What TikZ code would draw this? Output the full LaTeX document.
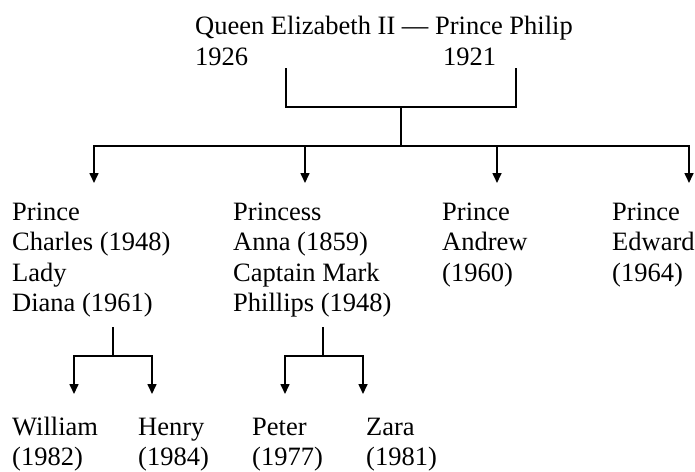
\documentclass[tikz,border=0pt]{standalone}
\usepackage{fontspec}
\setmainfont{Liberation Serif}
\usetikzlibrary{arrows.meta}
\begin{document}
\begin{tikzpicture}[x=1pt,y=-1pt,
  person/.style={anchor=base west,inner sep=0pt,align=left,font=\fontsize{26.5}{30.5}\selectfont},
  link/.style={line width=1.6pt,line cap=rect},
  tolink/.style={line width=1.6pt,-{Triangle[length=10pt,width=9pt]}}]
\useasboundingbox (0,0) rectangle (695,471);
% nodes (anchor at baseline of last line)
\node[person] (queen) at (195,65) {Queen Elizabeth II --- Prince Philip\\\makebox[248pt][l]{1926}1921};
\node[person] (charles) at (12,311.5) {Prince\\Charles (1948)\\Lady\\Diana (1961)};
\node[person] (anne) at (233,311.5) {Princess\\Anna (1859)\\Captain Mark\\Phillips (1948)};
\node[person] (andrew) at (442,281) {Prince\\Andrew\\(1960)};
\node[person] (edward) at (612,281) {Prince\\Edward\\(1964)};
\node[person] (william) at (12,465.5) {William\\(1982)};
\node[person] (henry) at (138,465.5) {Henry\\(1984)};
\node[person] (peter) at (252,465.5) {Peter\\(1977)};
\node[person] (zara) at (366,465.5) {Zara\\(1981)};
% junction coordinates
\coordinate (qL) at (286,69);
\coordinate (qR) at (516,69);
\coordinate (qM) at (401,107);
\coordinate (bar) at (401,146);
\coordinate (cC) at (94,183);
\coordinate (cA) at (305,183);
\coordinate (cN) at (497,183);
\coordinate (cE) at (689,183);
\coordinate (chTop) at (113,328);
\coordinate (chBar) at (113,356);
\coordinate (gW) at (74,394);
\coordinate (gH) at (152,394);
\coordinate (anTop) at (323,328);
\coordinate (anBar) at (323,356);
\coordinate (gP) at (285,394);
\coordinate (gZ) at (363,394);
% connectors
\draw[link] (qL) |- (qM) -| (qR);
\draw[link] (qM) -- (bar);
\draw[link] (cC |- bar) -- (cE |- bar);
\foreach \c in {cC,cA,cN,cE} \draw[tolink] (\c |- bar) -- (\c);
\draw[link] (chTop) -- (chBar);
\draw[link] (gW |- chBar) -- (gH |- chBar);
\foreach \c in {gW,gH} \draw[tolink] (\c |- chBar) -- (\c);
\draw[link] (anTop) -- (anBar);
\draw[link] (gP |- anBar) -- (gZ |- anBar);
\foreach \c in {gP,gZ} \draw[tolink] (\c |- anBar) -- (\c);
\end{tikzpicture}
\end{document}
